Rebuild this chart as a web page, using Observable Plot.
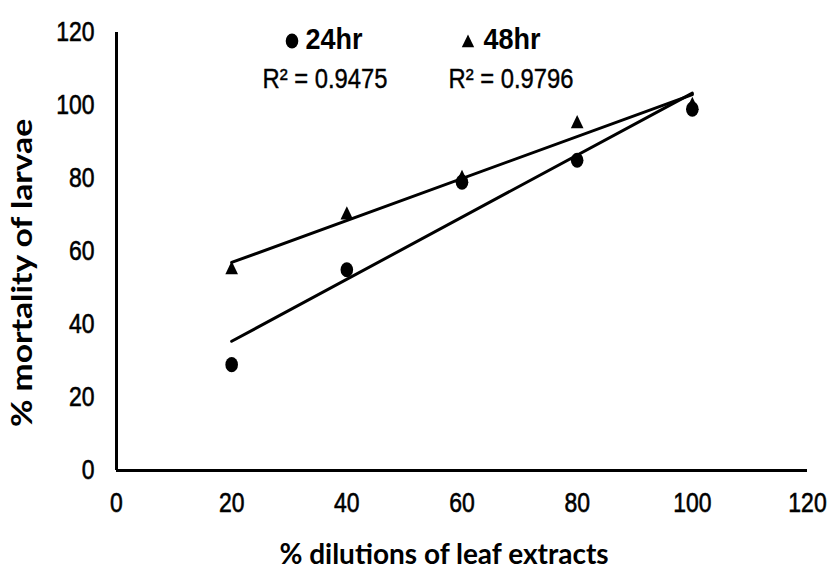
<!DOCTYPE html>
<html><head><meta charset="utf-8">
<script src="https://cdn.jsdelivr.net/npm/d3@7"></script>
<script src="https://cdn.jsdelivr.net/npm/@observablehq/plot@0.6"></script>
<style>body{margin:0;background:#fff}</style>
</head><body><div id="chart"></div>
<script>
const dilution = [20, 40, 60, 80, 100];
const mortality24 = [29, 55, 79, 85, 99];
const mortality48 = [55, 70, 80, 95, 100];
const seriesNames = ["24hr", "48hr"];
const r2Labels = ["R\u00B2 = 0.9475", "R\u00B2 = 0.9796"];
const xTicks = [0, 20, 40, 60, 80, 100, 120];
const yTicks = [0, 20, 40, 60, 80, 100, 120];
const xTitle = "% dilutions of leaf extracts";
const yTitle = "% mortality of larvae";

const s24 = dilution.map((d, i) => ({x: d, y: mortality24[i], s: seriesNames[0]}));
const s48 = dilution.map((d, i) => ({x: d, y: mortality48[i], s: seriesNames[1]}));

const narrow = "'Liberation Sans Narrow', 'Liberation Sans', Arial, sans-serif";
const boldFont = "Lato, 'Liberation Sans', sans-serif";

const chart = Plot.plot({
  width: 830, height: 568,
  marginLeft: 116, marginRight: 23, marginTop: 32, marginBottom: 98,
  style: {fontFamily: narrow, fontSize: "28px", color: "#000", background: "#fff"},
  x: {domain: [0, 120], label: null},
  y: {domain: [0, 120], label: null},
  marks: [
    Plot.axisX({ticks: xTicks, tickSize: 0, tickPadding: 22, label: null, fontSize: 28}),
    Plot.axisY({ticks: yTicks, tickSize: 0, tickPadding: 22, label: null, fontSize: 28}),
    Plot.ruleX([0], {stroke: "#000", strokeWidth: 3}),
    Plot.ruleY([0], {stroke: "#000", strokeWidth: 3}),
    Plot.dot(s24, {x: "x", y: "y", symbol: "circle", r: 6.3, fill: "#000", stroke: null}),
    Plot.dot(s48, {x: "x", y: "y", symbol: "triangle", r: 4.7, fill: "#000", stroke: null}),
    Plot.linearRegressionY(s24, {x: "x", y: "y", ci: 0, stroke: "#000", strokeWidth: 3}),
    Plot.linearRegressionY(s48, {x: "x", y: "y", ci: 0, stroke: "#000", strokeWidth: 3}),
    // legend
    Plot.dot([seriesNames[0]], {frameAnchor: "top-left", dx: 175.5, dy: 8.5, symbol: "circle", r: 6.3, fill: "#000"}),
    Plot.text([seriesNames[0]], {frameAnchor: "top-left", dx: 189, dy: 16, text: d => d, textAnchor: "start", lineAnchor: "bottom", fontWeight: "bold", fontSize: 30}),
    Plot.dot([seriesNames[1]], {frameAnchor: "top-left", dx: 351.5, dy: 10.5, symbol: "triangle", r: 4.6, fill: "#000"}),
    Plot.text([seriesNames[1]], {frameAnchor: "top-left", dx: 367, dy: 16, text: d => d, textAnchor: "start", lineAnchor: "bottom", fontWeight: "bold", fontSize: 30}),
    Plot.text([r2Labels[0]], {frameAnchor: "top-left", dx: 146, dy: 55, text: d => d, textAnchor: "start", lineAnchor: "bottom", fontSize: 28}),
    Plot.text([r2Labels[1]], {frameAnchor: "top-left", dx: 332, dy: 55, text: d => d, textAnchor: "start", lineAnchor: "bottom", fontSize: 28}),
    // axis titles
    Plot.text([xTitle], {frameAnchor: "bottom", dx: -18, dy: 93, text: d => d, textAnchor: "middle", lineAnchor: "bottom", fontWeight: "bold", fontSize: 28, fontFamily: boldFont}),
    Plot.text([yTitle], {frameAnchor: "left", dx: -93, dy: 21.5, rotate: -90, text: d => d, textAnchor: "middle", lineAnchor: "middle", fontWeight: "bold", fontSize: 28, fontFamily: boldFont})
  ]
});

// condense the Arial-Narrow-like texts horizontally around their anchors,
// and stretch the rotated y title along its length as in the reference
d3.select(chart).selectAll("text").each(function() {
  const t = this.textContent;
  const tr = this.getAttribute("transform") || "";
  if (t === xTitle) return;
  if (t === yTitle) { this.setAttribute("transform", tr + " scale(1.2,1)"); return; }
  const k = seriesNames.includes(t) ? 0.9 : (r2Labels.includes(t) ? 0.85 : 0.82);
  this.setAttribute("transform", tr + ` scale(${k},1)`);
  if (!seriesNames.includes(t)) {
    this.setAttribute("stroke", "#000");
    this.setAttribute("stroke-width", r2Labels.includes(t) ? 0.4 : 0.6);
  }
});
// markers are slightly taller than wide in the reference
d3.select(chart).selectAll("circle").each(function() {
  const cx = +this.getAttribute("cx") || 0, cy = +this.getAttribute("cy") || 0;
  this.setAttribute("transform", `translate(${cx},${cy}) scale(1,1.2) translate(${-cx},${-cy})`);
});
d3.select(chart).selectAll("g[aria-label=dot] path").each(function() {
  const tr = this.getAttribute("transform") || "";
  this.setAttribute("transform", tr + " scale(1,1.2)");
});
document.getElementById("chart").append(chart);
</script>
</body></html>
